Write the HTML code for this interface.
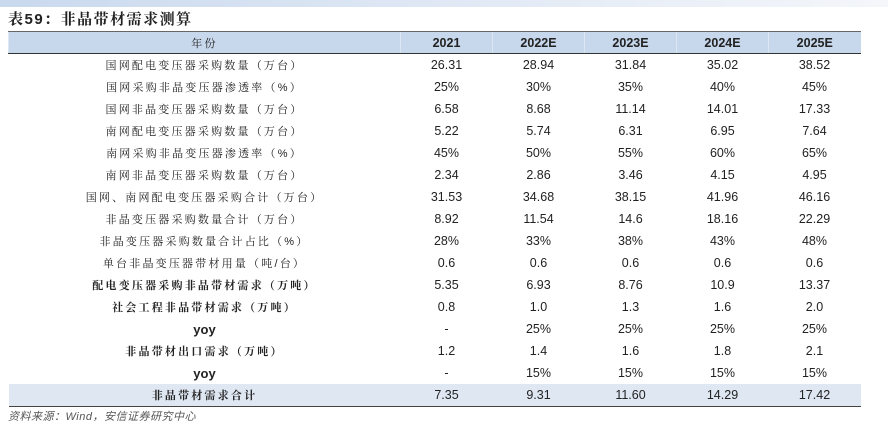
<!DOCTYPE html>
<html><head><meta charset="utf-8"><style>
body{margin:0;width:888px;height:432px;background:#fff;position:relative;overflow:hidden;font-family:"Liberation Sans","Noto Serif CJK SC",serif;}
.band{position:absolute;left:0;top:0;width:888px;height:7px;background:linear-gradient(90deg,#c9d9ee,#e8eef7 70%,#f4f6fa);}
.title{position:absolute;left:8px;top:8px;font-size:15px;font-weight:bold;color:#222;font-family:"Liberation Sans","Noto Serif CJK SC",serif;letter-spacing:1.5px;}
table{position:absolute;left:8px;top:31px;border-collapse:collapse;width:852px;table-layout:fixed;}
td{height:22px;padding:0;text-align:center;font-size:12.5px;color:#222;font-family:"Liberation Sans","Noto Serif CJK SC",serif;}
td.l{font-size:11px;letter-spacing:2.2px;}
tr.h td{background:#c7d7ec;font-weight:bold;border-bottom:1.5px solid #333;border-top:1px solid #666;border-left:1px solid #dde7f3;font-size:12.5px;height:21px;}
tr.h td.l{font-size:11px;font-weight:normal;}
tr.b td.l{font-weight:bold;}
tr.y td.l{font-family:"Liberation Sans",sans-serif;font-weight:bold;font-size:13px;letter-spacing:0}
tr.t td{background:#dfe7f3;border-bottom:1.5px solid #444;}
.src{position:absolute;left:8px;top:408px;font-size:11px;font-style:italic;color:#555;font-family:"Liberation Sans","Noto Sans CJK SC",sans-serif;letter-spacing:0.5px;}
</style></head><body>
<div class="band"></div>
<div class="title">表59：非晶带材需求测算</div>
<table>
<colgroup><col style="width:392px"><col style="width:92px"><col style="width:92px"><col style="width:92px"><col style="width:92px"><col style="width:92px"></colgroup>
<tr class="h"><td class="l">年份</td><td>2021</td><td>2022E</td><td>2023E</td><td>2024E</td><td>2025E</td></tr>
<tr><td class="l">国网配电变压器采购数量（万台）</td><td>26.31</td><td>28.94</td><td>31.84</td><td>35.02</td><td>38.52</td></tr>
<tr><td class="l">国网采购非晶变压器渗透率（%）</td><td>25%</td><td>30%</td><td>35%</td><td>40%</td><td>45%</td></tr>
<tr><td class="l">国网非晶变压器采购数量（万台）</td><td>6.58</td><td>8.68</td><td>11.14</td><td>14.01</td><td>17.33</td></tr>
<tr><td class="l">南网配电变压器采购数量（万台）</td><td>5.22</td><td>5.74</td><td>6.31</td><td>6.95</td><td>7.64</td></tr>
<tr><td class="l">南网采购非晶变压器渗透率（%）</td><td>45%</td><td>50%</td><td>55%</td><td>60%</td><td>65%</td></tr>
<tr><td class="l">南网非晶变压器采购数量（万台）</td><td>2.34</td><td>2.86</td><td>3.46</td><td>4.15</td><td>4.95</td></tr>
<tr><td class="l">国网、南网配电变压器采购合计（万台）</td><td>31.53</td><td>34.68</td><td>38.15</td><td>41.96</td><td>46.16</td></tr>
<tr><td class="l">非晶变压器采购数量合计（万台）</td><td>8.92</td><td>11.54</td><td>14.6</td><td>18.16</td><td>22.29</td></tr>
<tr><td class="l">非晶变压器采购数量合计占比（%）</td><td>28%</td><td>33%</td><td>38%</td><td>43%</td><td>48%</td></tr>
<tr><td class="l">单台非晶变压器带材用量（吨/台）</td><td>0.6</td><td>0.6</td><td>0.6</td><td>0.6</td><td>0.6</td></tr>
<tr class="b"><td class="l">配电变压器采购非晶带材需求（万吨）</td><td>5.35</td><td>6.93</td><td>8.76</td><td>10.9</td><td>13.37</td></tr>
<tr class="b"><td class="l">社会工程非晶带材需求（万吨）</td><td>0.8</td><td>1.0</td><td>1.3</td><td>1.6</td><td>2.0</td></tr>
<tr class="y"><td class="l">yoy</td><td>-</td><td>25%</td><td>25%</td><td>25%</td><td>25%</td></tr>
<tr class="b"><td class="l">非晶带材出口需求（万吨）</td><td>1.2</td><td>1.4</td><td>1.6</td><td>1.8</td><td>2.1</td></tr>
<tr class="y"><td class="l">yoy</td><td>-</td><td>15%</td><td>15%</td><td>15%</td><td>15%</td></tr>
<tr class="t b"><td class="l">非晶带材需求合计</td><td>7.35</td><td>9.31</td><td>11.60</td><td>14.29</td><td>17.42</td></tr>
</table>
<div class="src">资料来源：Wind，安信证券研究中心</div>
</body></html>
